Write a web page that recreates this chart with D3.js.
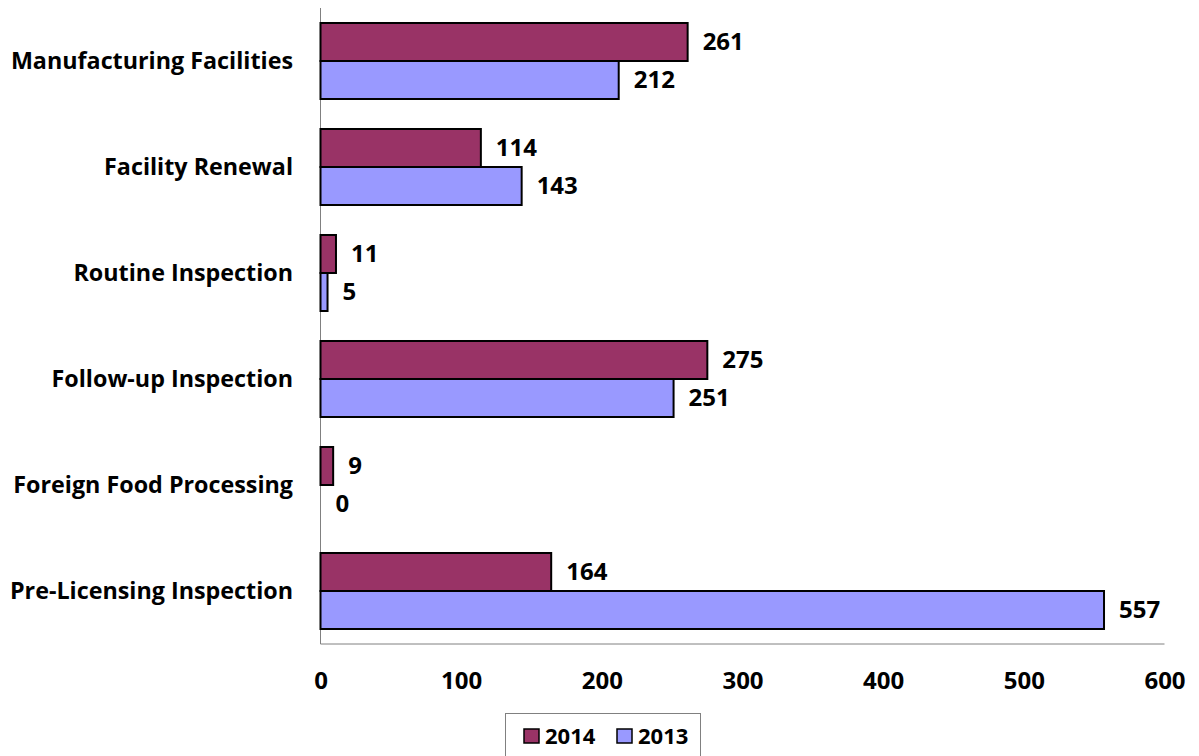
<!DOCTYPE html>
<html>
<head>
<meta charset="utf-8">
<script src="https://cdn.jsdelivr.net/npm/d3@7"></script>
<style>
  html, body { margin: 0; padding: 0; background: #fff; }
  svg text { font-family: "Open Sans", Lato, sans-serif; font-weight: bold; fill: #000; }
</style>
</head>
<body>
<svg id="chart" width="1199" height="756"></svg>
<script>
// Inspection counts by type, two years
const categories = [
  "Manufacturing Facilities",
  "Facility Renewal",
  "Routine Inspection",
  "Follow-up Inspection",
  "Foreign Food Processing",
  "Pre-Licensing Inspection"
];
const seriesNames = ["2014", "2013"];
const values2014 = [261, 114, 11, 275, 9, 164];
const values2013 = [212, 143, 5, 251, 0, 557];
const xTicks = [0, 100, 200, 300, 400, 500, 600];
const colors = { "2014": "#993366", "2013": "#9999FF" };

const svg = d3.select("#chart");
const margin = { left: 320.5, right: 1164.5, top: 8, bottom: 644 };
const labelSize = 23.3, numberSize = 24, legendSize = 22;

const x = d3.scaleLinear().domain([0, 600]).range([margin.left, margin.right]);
const y = d3.scaleBand().domain(categories).range([margin.top, margin.bottom])
  .paddingInner(0.283).paddingOuter(0.1415);
const sub = d3.scaleBand().domain(seriesNames).range([0, y.bandwidth()]);

const rows = categories.map((c, i) => ({
  cat: c,
  vals: [
    { key: "2014", v: values2014[i] },
    { key: "2013", v: values2013[i] }
  ]
}));

// plot area edges: left axis and bottom line
svg.append("line")
  .attr("x1", margin.left).attr("x2", margin.left)
  .attr("y1", margin.top).attr("y2", margin.bottom)
  .attr("stroke", "#808080").attr("stroke-width", 1);
svg.append("line")
  .attr("x1", margin.left).attr("x2", margin.right)
  .attr("y1", margin.bottom).attr("y2", margin.bottom)
  .attr("stroke", "#808080").attr("stroke-width", 1);

// bars
const groups = svg.append("g").selectAll("g").data(rows).join("g")
  .attr("transform", d => `translate(0,${y(d.cat)})`);

groups.selectAll("rect").data(d => d.vals.filter(e => e.v > 0)).join("rect")
  .attr("x", x(0))
  .attr("y", d => sub(d.key))
  .attr("width", d => x(d.v) - x(0))
  .attr("height", sub.bandwidth())
  .attr("fill", d => colors[d.key])
  .attr("stroke", "#000")
  .attr("stroke-width", 2);

// value labels
groups.selectAll("text.val").data(d => d.vals).join("text")
  .attr("class", "val")
  .attr("x", d => x(d.v) + 15)
  .attr("y", d => sub(d.key) + sub.bandwidth() / 2)
  .attr("dy", "0.35em")
  .attr("font-size", numberSize)
  .text(d => d.v);

// category labels
svg.append("g").selectAll("text").data(categories).join("text")
  .attr("x", 293)
  .attr("y", d => y(d) + y.bandwidth() / 2)
  .attr("dy", "0.35em")
  .attr("text-anchor", "end")
  .attr("font-size", labelSize)
  .text(d => d);

// x axis tick labels
const xAxis = d3.axisBottom(x).tickValues(xTicks).tickSize(0).tickPadding(0);
const ax = svg.append("g").attr("transform", `translate(0,${margin.bottom})`).call(xAxis);
ax.select(".domain").remove();
ax.selectAll("text")
  .attr("y", 45)
  .attr("dy", "0")
  .attr("font-size", numberSize)
  .style("font-family", "'Open Sans', Lato, sans-serif")
  .style("font-weight", "bold");

// legend
const legend = svg.append("g");
legend.append("rect")
  .attr("x", 505.5).attr("y", 713.5).attr("width", 195).attr("height", 60)
  .attr("fill", "#fff").attr("stroke", "#808080").attr("stroke-width", 1);
const legendX = { "2014": 524, "2013": 617 };
seriesNames.forEach(s => {
  legend.append("rect")
    .attr("x", legendX[s]).attr("y", 729).attr("width", 15).attr("height", 14)
    .attr("fill", colors[s]).attr("stroke", "#000").attr("stroke-width", 1.5);
  legend.append("text")
    .attr("x", legendX[s] + 21).attr("y", 736)
    .attr("dy", "0.35em")
    .attr("font-size", legendSize)
    .text(s);
});
</script>
</body>
</html>
